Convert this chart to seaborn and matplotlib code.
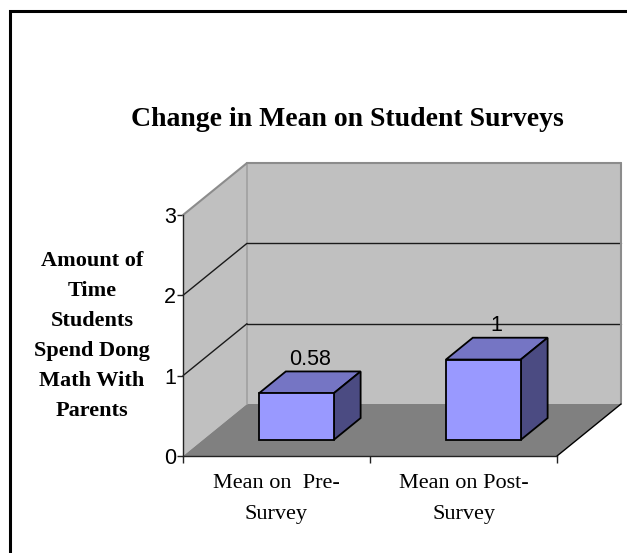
import matplotlib
matplotlib.use("Agg")
import matplotlib.pyplot as plt
import seaborn as sns
import pandas as pd
from matplotlib.patches import Rectangle

# ---- data ----
categories = ["Mean on  Pre-\nSurvey", "Mean on Post-\nSurvey"]
values = [0.58, 1.0]
value_labels = ["0.58", "1"]
y_ticks = [0, 1, 2, 3]
title = "Change in Mean on Student Surveys"
y_label = "Amount of\nTime\nStudents\nSpend Dong\nMath With\nParents"

W, H, DPI = 627, 553, 100
sns.set_theme(style="white")
plt.rcParams["font.family"] = ["Liberation Sans", "DejaVu Sans"]
plt.rcParams["text.color"] = "black"
plt.rcParams["xtick.color"] = "black"
plt.rcParams["ytick.color"] = "black"

fig = plt.figure(figsize=(W / DPI, H / DPI), dpi=DPI)
fig.patch.set_facecolor("white")

# front plane of the 3-D box (pixel geometry)
L, R, B, T = 183, 557, 456, 215
ax = fig.add_axes([L / W, 1 - B / H, (R - L) / W, (B - T) / H])
ax.set_facecolor("none")
xmin, xmax = -0.5, len(categories) - 0.5
ymin, ymax = 0, 3

# depth vector (pixels) converted to data units
DX_PX, DY_PX = 64, 52
ddx = DX_PX / ((R - L) / (xmax - xmin))
ddy = DY_PX / ((B - T) / (ymax - ymin))


def P(x, y, d):
    return x + d * ddx, y + d * ddy


def poly(pts, **kw):
    xs, ys = zip(*[P(*p) for p in pts])
    ax.fill(xs, ys, clip_on=False, **kw)


def line(p1, p2, **kw):
    (x1, y1), (x2, y2) = P(*p1), P(*p2)
    ax.plot([x1, x2], [y1, y2], clip_on=False, **kw)


# bars (front faces via seaborn), then shifted to their depth
F1, F2 = 0.31, 0.73
df = pd.DataFrame({"cat": categories, "val": values})
sns.barplot(data=df, x="cat", y="val", ax=ax, color="#9999FF", saturation=1,
            width=0.4, edgecolor="black", linewidth=1.3, zorder=3)
bars = list(ax.containers[0])
ax.set_xlim(xmin, xmax)
ax.set_ylim(ymin, ymax)

wall = "#C0C0C0"
floor = "#808080"
edge = "#8C8C8C"
# walls and floor
poly([(xmin, ymin, 1), (xmax, ymin, 1), (xmax, ymax, 1), (xmin, ymax, 1)], color=wall, lw=0, zorder=0)
poly([(xmin, ymin, 0), (xmin, ymax, 0), (xmin, ymax, 1), (xmin, ymin, 1)], color=wall, lw=0, zorder=0)
poly([(xmin, ymin, 0), (xmax, ymin, 0), (xmax, ymin, 1), (xmin, ymin, 1)], color=floor, lw=0, zorder=0.5)
# gridlines
for yv in y_ticks[1:-1]:
    line((xmin, yv, 1), (xmax, yv, 1), color="#1a1a1a", lw=1.0, zorder=0.6)
    line((xmin, yv, 0), (xmin, yv, 1), color="#1a1a1a", lw=1.0, zorder=0.6)
# wall edges
line((xmin, ymax, 0), (xmin, ymax, 1), color=edge, lw=1.5, zorder=0.7)
line((xmin, ymax, 1), (xmax, ymax, 1), color=edge, lw=1.5, zorder=0.7)
line((xmax, ymax, 1), (xmax, ymin, 1), color=edge, lw=1.5, zorder=0.7)
line((xmin, ymin, 1), (xmin, ymax, 1), color="#A0A0A0", lw=1.2, zorder=0.55)
line((xmax, ymin, 0), (xmax, ymin, 1), color="black", lw=1.0, zorder=0.7)

top = "#7575C4"
side = "#4B4B82"
for p, v, lab in zip(bars, values, value_labels):
    x0 = p.get_x()
    x1 = x0 + p.get_width()
    h = p.get_height()
    p.set_x(x0 + F1 * ddx)
    p.set_y(p.get_y() + F1 * ddy)
    p.set_clip_on(False)
    poly([(x0, h, F1), (x1, h, F1), (x1, h, F2), (x0, h, F2)], facecolor=top,
         edgecolor="black", lw=1.3, zorder=2.9)
    poly([(x1, 0, F1), (x1, h, F1), (x1, h, F2), (x1, 0, F2)], facecolor=side,
         edgecolor="black", lw=1.3, zorder=2.9)
    cx, cy = P((x0 + x1) / 2, h, (F1 + F2) / 2)
    ax.annotate(lab, (cx, cy), xytext=(0, 9), textcoords="offset points",
                ha="center", va="bottom", fontsize=15.5, color="black",
                family=["Liberation Sans", "DejaVu Sans"], zorder=5)

# axes styling
for s in ["top", "right"]:
    ax.spines[s].set_visible(False)
for s in ["left", "bottom"]:
    ax.spines[s].set_color("#222222")
    ax.spines[s].set_linewidth(1.0)
    ax.spines[s].set_zorder(4)
ax.set_yticks(y_ticks)
ax.set_yticklabels([str(t) for t in y_ticks], fontsize=15.5, family=["Liberation Sans"],
                   color="black")
ax.tick_params(axis="y", direction="out", length=4, width=1, color="#222222", pad=1, left=True)
ax.set_xticks([xmin + i for i in range(len(categories) + 1)])
ax.set_xticklabels([])
ax.set_xticks(range(len(categories)), minor=True)
ax.set_xticklabels(categories, minor=True, fontsize=16, family=["Liberation Serif"],
                   linespacing=1.82, color="black")
ax.tick_params(axis="x", which="major", direction="out", length=5, width=1, color="#222222", bottom=True)
ax.tick_params(axis="x", which="minor", length=0, pad=13)
ax.set_xlabel("")
ax.set_ylabel("")

fig.text(347 / W, 1 - 120 / H, title, ha="center", va="center", fontsize=20,
         fontweight="bold", family=["Liberation Serif"], color="black")
fig.text(92 / W, 1 - 336 / H, y_label, ha="center", va="center", fontsize=16,
         fontweight="bold", family=["Liberation Serif"], linespacing=1.68, color="black")

# chart-area border (left and top edges visible)
fig.patches.append(Rectangle((10 / W, -0.2), 1.0, 1.2 - 10.5 / H, transform=fig.transFigure,
                             fill=False, edgecolor="black", lw=2.2, clip_on=False))

fig.savefig("out.png", dpi=DPI)
